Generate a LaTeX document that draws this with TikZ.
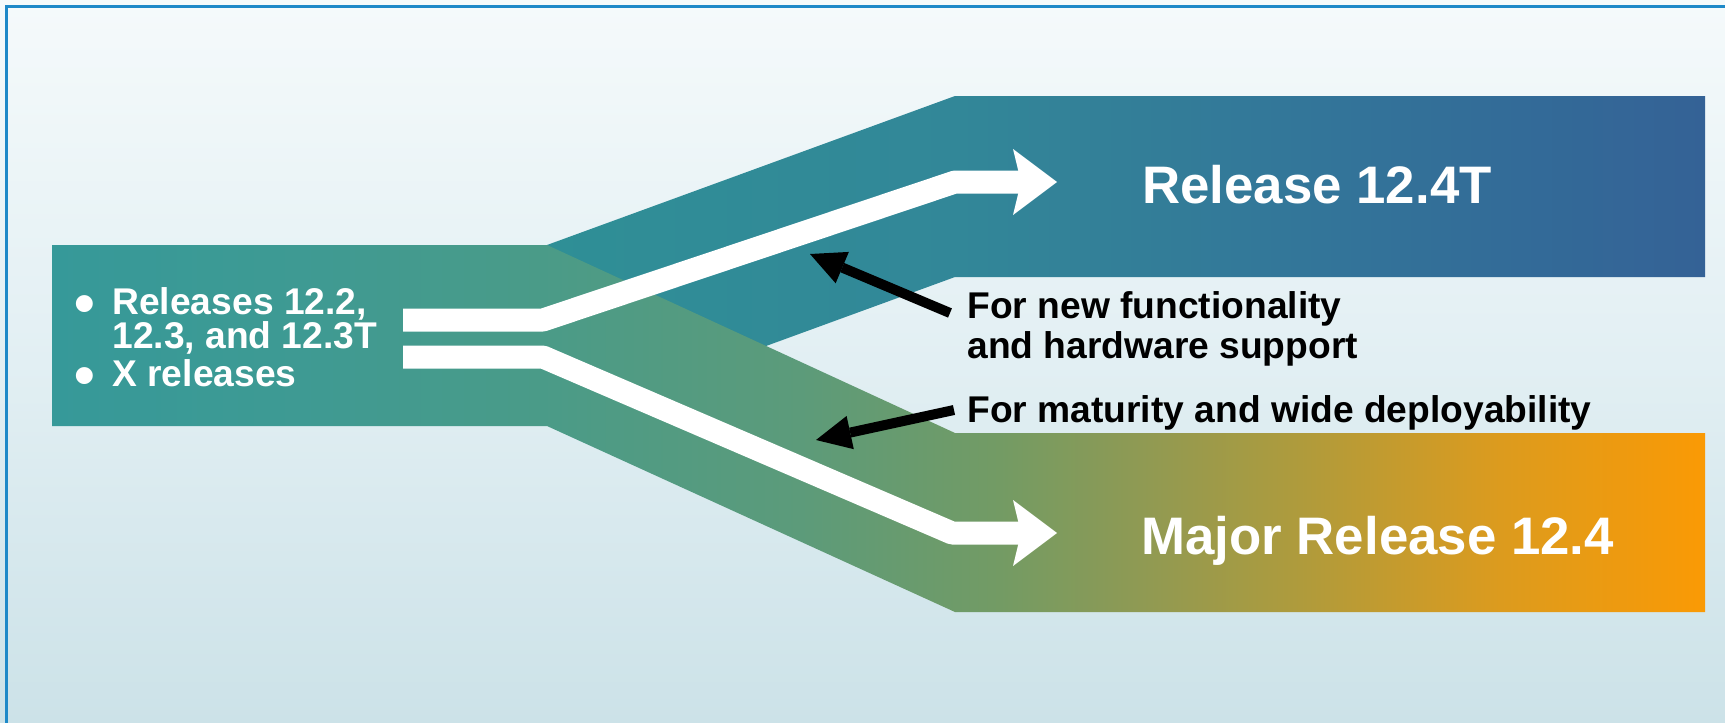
\documentclass[tikz,border=0pt]{standalone}
\usepackage{fontspec}
\setmainfont{Liberation Sans}
\usetikzlibrary{arrows.meta}

\definecolor{bgtop}{RGB}{245,250,251}
\definecolor{bgmid}{RGB}{226,239,243}
\definecolor{bgbot}{RGB}{204,226,232}
\definecolor{framecol}{RGB}{30,137,200}

\definecolor{lo1}{RGB}{54,153,153}
\definecolor{lo2}{RGB}{62,154,147}
\definecolor{lo3}{RGB}{74,155,136}
\definecolor{lo4}{RGB}{92,155,122}
\definecolor{lo5}{RGB}{115,155,100}
\definecolor{lo6}{RGB}{145,154,82}
\definecolor{lo7}{RGB}{175,155,60}
\definecolor{lo8}{RGB}{220,155,30}
\definecolor{lo9}{RGB}{250,154,5}

\definecolor{up1}{RGB}{47,143,150}
\definecolor{up2}{RGB}{50,135,152}
\definecolor{up3}{RGB}{51,128,152}
\definecolor{up4}{RGB}{51,118,153}
\definecolor{up5}{RGB}{51,108,152}
\definecolor{up6}{RGB}{52,98,150}

\pgfdeclarehorizontalshading{lowgrad}{100bp}{%
 color(0bp)=(lo1); color(25bp)=(lo1); color(32.5bp)=(lo2); color(39.76bp)=(lo3);
 color(47.63bp)=(lo4); color(53.68bp)=(lo5); color(58.21bp)=(lo6); color(62.75bp)=(lo7);
 color(68.8bp)=(lo8); color(75bp)=(lo9); color(100bp)=(lo9)}
\pgfdeclarehorizontalshading{upgrad}{100bp}{%
 color(0bp)=(up1); color(25bp)=(up1); color(42.7bp)=(up2); color(48.88bp)=(up3);
 color(57.51bp)=(up4); color(66.15bp)=(up5); color(75bp)=(up6); color(100bp)=(up6)}
\pgfdeclareverticalshading{bggrad}{100bp}{%
 color(0bp)=(bgbot); color(25bp)=(bgbot); color(50bp)=(bgmid); color(75bp)=(bgtop); color(100bp)=(bgtop)}

\tikzset{
  smalltxt/.style={inner sep=0pt, anchor=base west, font=\fontsize{18.6pt}{22pt}\selectfont\bfseries},
  listtxt/.style={smalltxt, text=white},
  bullettxt/.style={inner sep=0pt, anchor=base west, text=white, font=\fontsize{29.5pt}{32pt}\selectfont\bfseries},
  labeltxt/.style={smalltxt, text=black},
  bigtxt/.style={inner sep=0pt, anchor=base west, text=white, font=\fontsize{26.4pt}{32pt}\selectfont\bfseries},
  whitearrow/.style={draw=white, line width=11.5pt, line join=round,
     -{Stealth[length=22pt,width=33pt,inset=4pt,line width=0pt]}},
  blackarrow/.style={draw=black, line width=5pt,
     -{Triangle[length=17.5pt,width=17pt,line width=0pt]}},
}

\begin{document}
\begin{tikzpicture}[x=0.5pt,y=-0.5pt]
\useasboundingbox (0,0) rectangle (1725,723);
% background
\shade[shading=bggrad] (0,0) rectangle (1725,723);
% frame
\draw[framecol, line width=1.5pt] (6.5,723) -- (6.5,6.5) -- (1725,6.5);

% upper band (to Release 12.4T)
\shade[shading=upgrad] (547,245) -- (955,96) -- (1705,96) -- (1705,277) -- (955,277) -- (547,426) -- cycle;
% left box and lower band (to Major Release 12.4)
\shade[shading=lowgrad] (52,245) -- (547,245) -- (955,433) -- (1705,433) -- (1705,612) -- (955,612) -- (547,426) -- (52,426) -- cycle;

% left list
\node[bullettxt] (b1) at (74,323) {\textbullet};
\node[listtxt] (l1) at (112,314) {Releases 12.2,};
\node[listtxt] (l2) at (112,348) {12.3, and 12.3T};
\node[bullettxt] (b2) at (74,395) {\textbullet};
\node[listtxt] (l3) at (112,386) {X releases};

% big labels
\node[bigtxt] (rel) at (1142,203) {Release 12.4T};
\node[bigtxt] (maj) at (1141,554) {Major Release 12.4};

% side labels
\node[labeltxt] (n1) at (967,318) {For new functionality};
\node[labeltxt] (n2) at (967,358) {and hardware support};
\node[labeltxt] (n3) at (967,422) {For maturity and wide deployability};

% white arrows
\coordinate (ua) at (403,320);
\coordinate (ub) at (543,320);
\coordinate (ud) at (955,182);
\coordinate (ue) at (1057,182);
\draw[whitearrow] (ua) -- (ub) -- (ud) -- (ue);

\coordinate (la) at (403,357);
\coordinate (lb) at (543,357);
\coordinate (lc) at (952,533);
\coordinate (ld) at (1057,533);
\draw[whitearrow] (la) -- (lb) -- (lc) -- (ld);

% black arrows
\coordinate (t1) at (950,313);
\coordinate (p1) at (810,254);
\draw[blackarrow] (t1) -- (p1);
\coordinate (t2) at (954,410);
\coordinate (p2) at (816,440);
\draw[blackarrow] (t2) -- (p2);
\end{tikzpicture}
\end{document}
